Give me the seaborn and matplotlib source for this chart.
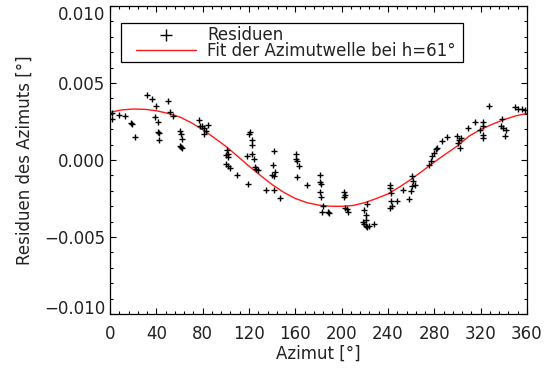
import numpy as np
import pandas as pd
import matplotlib
matplotlib.use("Agg")
import matplotlib.pyplot as plt
import seaborn as sns
from matplotlib.ticker import MultipleLocator, FuncFormatter
from matplotlib.patches import Rectangle

# ---- data: residuals ----
azimut = [1.8, 1.8, 8.1, 13.3, 18.4, 19.0, 21.7, 31.7, 36.5, 39.8, 38.9, 41.3, 41.6, 42.0, 41.9,
          49.7, 51.6, 54.3, 60.0, 60.9, 62.4, 60.0, 61.2, 62.4,
          76.6, 77.5, 79.5, 81.0, 82.5, 81.0, 85.0,
          101.0, 102.0, 100.5, 102.3, 100.5, 102.0, 103.3, 110.0,
          119.7, 121.2, 122.4, 122.4, 118.5, 123.0, 123.9, 119.0, 124.8, 126.3, 127.5,
          134.5, 141.7, 140.8, 141.4, 142.3, 139.9, 141.7, 146.8,
          160.7, 160.4, 161.6, 162.8, 161.6, 169.7,
          181.5, 180.9, 182.4, 181.5, 182.4, 183.6, 182.7, 187.9, 189.1,
          201.8, 202.7, 201.8, 202.7, 204.2, 205.4,
          219.5, 220.7, 221.3, 218.3, 219.5, 221.0, 221.9, 223.7, 227.9, 222.2,
          242.0, 242.0, 243.0, 243.0, 243.8, 241.4, 248.0, 253.0, 258.0,
          261.0, 262.0, 261.0, 259.8, 263.4,
          275.3, 276.8, 278.0, 280.1, 281.6, 282.5, 287.0, 291.0,
          299.4, 301.5, 300.6, 303.1, 302.2, 309.0,
          315.3, 322.3, 321.7, 319.5, 321.7, 321.7, 326.8,
          338.2, 337.6, 339.1, 341.5, 340.9,
          349.4, 351.8, 356.0, 358.4]
residuen = [0.00305, 0.00266, 0.00294, 0.00286, 0.00240, 0.00236, 0.00152, 0.00424, 0.00396, 0.00350,
            0.00279, 0.00249, 0.00185, 0.00178, 0.00130,
            0.00381, 0.00312, 0.00288, 0.00188, 0.00171, 0.00139, 0.00090, 0.00082, 0.00076,
            0.00262, 0.00223, 0.00219, 0.00208, 0.00190, 0.00171, 0.00229,
            0.00067, 0.00041, 0.00035, 0.00020, -0.00026, -0.00041, -0.00052, -0.00097,
            0.00169, 0.00184, 0.00132, 0.00095, 0.00028, 0.00041, 0.00006, -0.00154, -0.00045, -0.00061, -0.00067,
            -0.00197, 0.00061, -0.00030, -0.00106, -0.00076, -0.00100, -0.00193, -0.00247,
            0.00041, 0.00009, -0.00004, -0.00041, -0.00113, -0.00160,
            -0.00097, -0.00145, -0.00154, -0.00208, -0.00240, -0.00297, -0.00335, -0.00340, -0.00343,
            -0.00210, -0.00225, -0.00240, -0.00310, -0.00320, -0.00340,
            -0.00327, -0.00355, -0.00387, -0.00400, -0.00413, -0.00426, -0.00436, -0.00428, -0.00415, -0.00288,
            -0.00160, -0.00180, -0.00214, -0.00268, -0.00300, -0.00312, -0.00264, -0.00193, -0.00250,
            -0.00102, -0.00134, -0.00171, -0.00203, -0.00160,
            -0.00032, -0.00009, 0.00024, 0.00045, 0.00069, 0.00080, 0.00123, 0.00152,
            0.00158, 0.00132, 0.00110, 0.00143, 0.00078, 0.00208,
            0.00245, 0.00245, 0.00223, 0.00197, 0.00165, 0.00143, 0.00353,
            0.00266, 0.00219, 0.00208, 0.00193, 0.00154,
            0.00346, 0.00331, 0.00331, 0.00322]

# ---- data: fitted azimuth wave ----
fit_azimut = [0, 10, 20, 30, 40, 50, 60, 70, 80, 90, 100, 110, 120, 130, 140, 150, 160, 170, 180,
              190, 200, 210, 220, 230, 240, 250, 260, 270, 280, 290, 300, 310, 320, 330, 340, 350, 360]
fit_wert = [0.00310, 0.00325, 0.00331, 0.00329, 0.00320, 0.00303, 0.00280, 0.00243, 0.00197, 0.00144,
            0.00089, 0.00025, -0.00040, -0.00101, -0.00160, -0.00210, -0.00250, -0.00277, -0.00293,
            -0.00300, -0.00301, -0.00295, -0.00277, -0.00250, -0.00220, -0.00175, -0.00125, -0.00070,
            -0.00013, 0.00040, 0.00092, 0.00155, 0.00198, 0.00232, 0.00262, 0.00286, 0.00303]

x_ticks = [0, 40, 80, 120, 160, 200, 240, 280, 320, 360]
y_ticks = [-0.010, -0.005, 0.000, 0.005, 0.010]

label_punkte = "Residuen"
label_fit = "Fit der Azimutwelle bei h=61°"

df_pts = pd.DataFrame({"Azimut": azimut, "Residuen": residuen})
df_fit = pd.DataFrame({"Azimut": fit_azimut, "Fit": fit_wert})

sns.set_style("white")
plt.rcParams["font.family"] = ["DejaVu Sans"]
txtcol = "#222222"
FS = 12

W, H = 547, 369
L, R, T, B = 110, 527, 6, 314
fig = plt.figure(figsize=(W / 100, H / 100), dpi=100)
ax = fig.add_axes([L / W, 1 - B / H, (R - L) / W, (B - T) / H])

sns.scatterplot(data=df_pts, x="Azimut", y="Residuen", marker="+", s=22, color="black",
                linewidth=1.0, ax=ax, label=label_punkte, zorder=3)
sns.lineplot(data=df_fit, x="Azimut", y="Fit", color="#ff1a1a", linewidth=1.0, ax=ax,
             label=label_fit, zorder=2)

ax.set_xlim(0, 360)
ax.set_ylim(-0.010, 0.010)
ax.set_xticks(x_ticks)
ax.set_yticks(y_ticks)
ax.xaxis.set_minor_locator(MultipleLocator(8))
ax.yaxis.set_minor_locator(MultipleLocator(0.001))
ax.yaxis.set_major_formatter(FuncFormatter(lambda v, p: f"{v:.3f}".replace("-", "\u2212")))
ax.tick_params(which="both", direction="in", top=True, right=True, bottom=True, left=True,
               colors="black", labelcolor=txtcol, labelsize=FS, width=0.8)
ax.tick_params(which="major", length=4.2)
ax.tick_params(which="minor", length=2.0)
ax.tick_params(axis="x", which="major", pad=8)
ax.tick_params(axis="y", which="major", pad=3.6)
for sp in ax.spines.values():
    sp.set_color("black")
    sp.set_linewidth(0.9)
ax.set_xlabel("Azimut [°]", fontsize=FS, color=txtcol, labelpad=1)
ax.set_ylabel("Residuen des Azimuts [°]", fontsize=FS, color=txtcol, labelpad=7)

# end labels sit inside the axis range, as in the original
ylabs = ax.get_yticklabels()
ylabs[-1].set_verticalalignment("top")
ylabs[0].set_verticalalignment("baseline")

pw, ph = R - L, B - T
leg = ax.legend(loc="upper left", bbox_to_anchor=((136 - L) / pw, 1 - (25.5 - T) / ph),
                borderaxespad=0, frameon=False, fontsize=FS, markerscale=1.7,
                handlelength=3.6, handletextpad=0.66, borderpad=0, labelspacing=-0.1)
for t in leg.get_texts():
    t.set_color(txtcol)
# legend box
ax.add_patch(Rectangle(((120.5 - L) / pw, 1 - (62.3 - T) / ph), (462.8 - 120.5) / pw,
                       (62.3 - 22.7) / ph, transform=ax.transAxes, fill=False,
                       edgecolor="black", linewidth=0.9, zorder=4))

fig.savefig("out.png", dpi=100)
